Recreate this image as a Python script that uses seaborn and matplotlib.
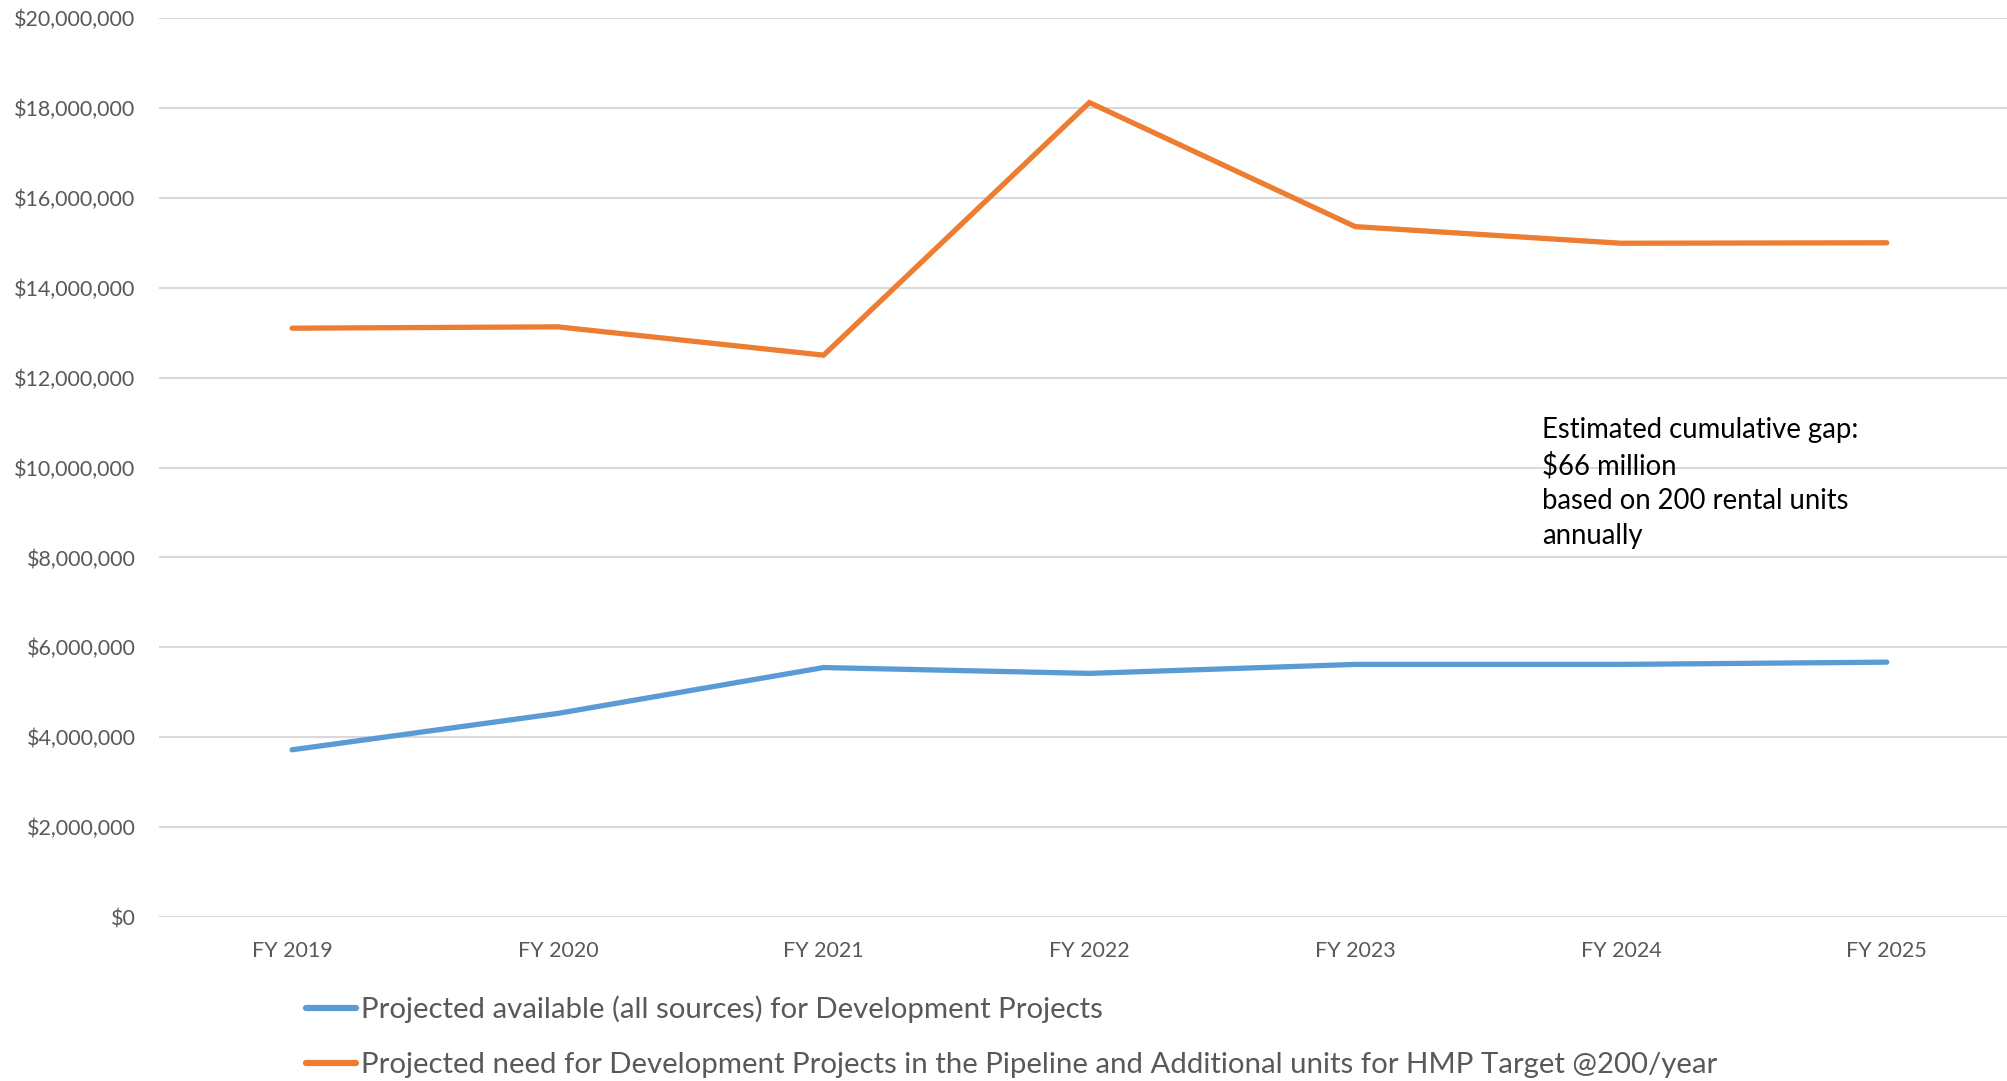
import matplotlib
matplotlib.use("Agg")
import matplotlib.pyplot as plt
import seaborn as sns
import pandas as pd
from matplotlib.ticker import FuncFormatter

years = ["FY 2019", "FY 2020", "FY 2021", "FY 2022", "FY 2023", "FY 2024", "FY 2025"]
available = [3720000, 4530000, 5550000, 5420000, 5620000, 5620000, 5670000]
need = [13100000, 13130000, 12500000, 18120000, 15360000, 14990000, 15000000]
series_names = [
    "Projected available (all sources) for Development Projects",
    "Projected need for Development Projects in the Pipeline and Additional units for HMP Target @200/year",
]
colors = ["#5B9BD5", "#ED7D31"]
annotation = "Estimated cumulative gap:\n$66 million\nbased on 200 rental units\nannually"

df = pd.DataFrame({
    "year": years * 2,
    "value": available + need,
    "series": [series_names[0]] * len(years) + [series_names[1]] * len(years),
})

sns.set_theme(style="white")
plt.rcParams["font.family"] = ["Lato", "DejaVu Sans"]

fig = plt.figure(figsize=(20.07, 10.81), dpi=100)
ax = fig.add_axes([0.0793, 0.1517, 0.927, 0.8316])

sns.lineplot(data=df, x="year", y="value", hue="series", palette=colors,
             linewidth=3.8, sort=False, ax=ax, legend=True)
for ln in ax.lines:
    ln.set_solid_capstyle("round")
    ln.set_solid_joinstyle("miter")

ax.set_xlim(-0.5, 6.5)
ax.set_ylim(0, 20000000)
ax.set_yticks(range(0, 20000001, 2000000))
ax.yaxis.set_major_formatter(FuncFormatter(lambda v, p: "${:,.0f}".format(v)))
ax.grid(axis="y", color="#D9D9D9", linewidth=1.5)
ax.set_axisbelow(True)
for s in ax.spines.values():
    s.set_visible(False)
ax.tick_params(axis="both", length=0, labelsize=15.5, colors="#595959")
ax.tick_params(axis="y", pad=17)
ax.tick_params(axis="x", pad=17)
ax.set_xlabel("")
ax.set_ylabel("")

ax.text(1542 / 2007, 1 - 417 / 1081, annotation, transform=fig.transFigure,
        fontsize=19.8, color="black", va="top", ha="left", linespacing=1.41)

handles, labels = ax.get_legend_handles_labels()
ax.get_legend().remove()
leg = fig.legend(handles, labels, loc="upper left", bbox_to_anchor=(279 / 2007, 1 - 969 / 1081),
                 frameon=False, fontsize=21.2, handlelength=1.7, handletextpad=0.2,
                 labelspacing=0.99, labelcolor="#595959")
for h in leg.get_lines():
    h.set_linewidth(4.5)

fig.savefig("out.png", dpi=100)
